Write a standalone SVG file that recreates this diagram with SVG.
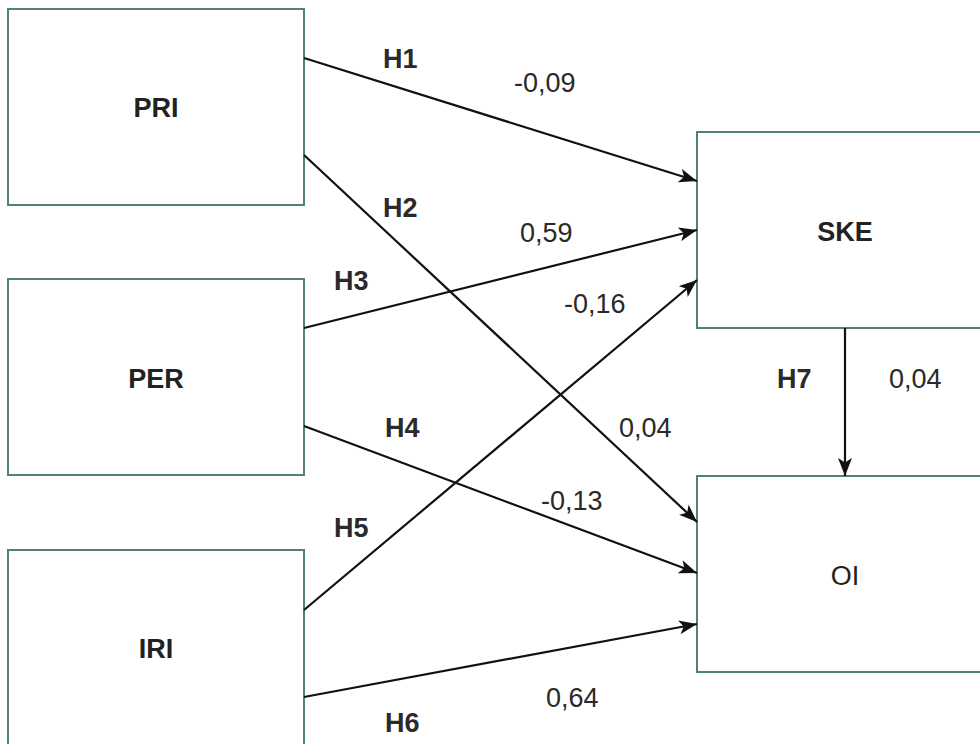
<svg xmlns="http://www.w3.org/2000/svg" width="980" height="744" viewBox="0 0 980 744">
  <defs>
    <style>
      .box { fill: #ffffff; stroke: #4f8475; stroke-width: 2; }
      .nlabel { font-family: "Liberation Sans", Arial, sans-serif; font-size: 27px; fill: #222222; text-anchor: middle; }
      .b { font-weight: bold; }
      .hl { font-family: "Liberation Sans", Arial, sans-serif; font-size: 27px; font-weight: bold; fill: #2a2a2a; }
      .val { font-family: "Liberation Sans", Arial, sans-serif; font-size: 27px; fill: #2a2a2a; }
      .edge { fill: none; stroke: #111111; stroke-width: 2.2; marker-end: url(#arrow); }
    </style>
    <marker id="arrow" viewBox="0 0 18 14" refX="18" refY="7" markerWidth="18" markerHeight="14" markerUnits="userSpaceOnUse" orient="auto">
      <path d="M0,0 L18,7 L0,14 L4.5,7 Z" fill="#111111"/>
    </marker>
  </defs>
  <rect width="980" height="744" fill="#ffffff"/>

  <g id="PRI">
    <rect class="box" x="8" y="9" width="296" height="196"/>
    <text class="nlabel b" x="156" y="117">PRI</text>
  </g>
  <g id="PER">
    <rect class="box" x="8" y="279" width="296" height="196"/>
    <text class="nlabel b" x="156" y="388">PER</text>
  </g>
  <g id="IRI">
    <rect class="box" x="8" y="550" width="296" height="210"/>
    <text class="nlabel b" x="156" y="658">IRI</text>
  </g>
  <g id="SKE">
    <rect class="box" x="697" y="132" width="296" height="196"/>
    <text class="nlabel b" x="845" y="241">SKE</text>
  </g>
  <g id="OI">
    <rect class="box" x="697" y="476" width="296" height="196"/>
    <text class="nlabel" x="845" y="585">OI</text>
  </g>

  <g id="connectors">
    <line class="edge" x1="304" y1="58" x2="697" y2="181"/>
    <line class="edge" x1="304" y1="155" x2="697" y2="522"/>
    <line class="edge" x1="304" y1="328" x2="697" y2="230"/>
    <line class="edge" x1="304" y1="426" x2="697" y2="573"/>
    <line class="edge" x1="304" y1="610" x2="697" y2="280"/>
    <line class="edge" x1="304" y1="697" x2="697" y2="624"/>
    <line class="edge" x1="845" y1="328" x2="845" y2="476"/>

    <text class="hl" x="383" y="68">H1</text>
    <text class="val" x="514" y="92">-0,09</text>
    <text class="hl" x="383" y="217">H2</text>
    <text class="val" x="520" y="242">0,59</text>
    <text class="hl" x="334" y="290">H3</text>
    <text class="val" x="564" y="313">-0,16</text>
    <text class="hl" x="385" y="437">H4</text>
    <text class="val" x="619" y="437">0,04</text>
    <text class="val" x="541" y="510">-0,13</text>
    <text class="hl" x="334" y="537">H5</text>
    <text class="val" x="546" y="707">0,64</text>
    <text class="hl" x="385" y="732">H6</text>
    <text class="hl" x="777" y="388">H7</text>
    <text class="val" x="889" y="388">0,04</text>
  </g>
</svg>
